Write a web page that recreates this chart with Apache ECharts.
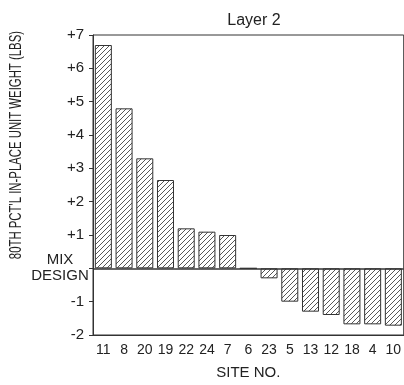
<!DOCTYPE html>
<html><head><meta charset="utf-8">
<script src="https://cdn.jsdelivr.net/npm/echarts@6/dist/echarts.min.js"></script>
<style>html,body{margin:0;padding:0;background:#fff}#c{width:404px;height:385px}</style>
</head><body><div id="c"></div>
<script>
const categories = ['11','8','20','19','22','24','7','6','23','5','13','12','18','4','10'];
const values = [6.7, 4.8, 3.3, 2.65, 1.2, 1.1, 1.0, 0, -0.3, -1.0, -1.3, -1.4, -1.68, -1.68, -1.72];
const yTickValues = [-2,-1,0,1,2,3,4,5,6,7];
const yTickLabels = ['-2','-1','MIX\nDESIGN','+1','+2','+3','+4','+5','+6','+7'];
const titleText = 'Layer 2';
const yName = "80TH PCT'L IN-PLACE UNIT WEIGHT (LBS)";
const xName = 'SITE NO.';

const pc = document.createElement('canvas');
pc.width = 5; pc.height = 5;
const g = pc.getContext('2d');
g.fillStyle = '#fff'; g.fillRect(0,0,5,5);
g.strokeStyle = '#444'; g.lineWidth = 0.9;
g.beginPath();
g.moveTo(0,5); g.lineTo(5,0);
g.moveTo(-1,1); g.lineTo(1,-1);
g.moveTo(4,6); g.lineTo(6,4);
g.stroke();

const FONT = '"Liberation Sans",sans-serif';
function yFmt(v) {
  const t = yTickLabels[yTickValues.indexOf(v)];
  if (v === 0) return t.split('\n').map(s => '{c|' + s + '}').join('\n');
  return '{n|' + t + '}';
}
const chart = echarts.init(document.getElementById('c'));
chart.setOption({
  animation: false,
  backgroundColor: '#fff',
  title: {text: titleText, left: 249, top: 8, textAlign: 'center',
    textStyle: {fontFamily: FONT, fontWeight: 'normal', fontSize: 16, color: '#222'}},
  grid: {left: 93, top: 35, width: 315, height: 302, show: true, borderColor: '#333', borderWidth: 1, backgroundColor: 'transparent'},
  xAxis: {type: 'category', data: categories,
    name: xName, nameLocation: 'middle', nameGap: 30,
    nameTextStyle: {fontFamily: FONT, fontSize: 15, color: '#222'},
    axisLine: {onZero: false, lineStyle: {color: '#333'}},
    axisTick: {alignWithLabel: true, length: 4, lineStyle: {color: '#333'}},
    axisLabel: {fontFamily: FONT, fontSize: 14, color: '#222', margin: 8, interval: 0}},
  yAxis: {type: 'value', min: -2, max: 7, interval: 1,
    axisLine: {show: true, lineStyle: {color: '#333'}},
    axisTick: {show: true, length: 4, lineStyle: {color: '#333'}},
    splitLine: {show: false},
    axisLabel: {fontFamily: FONT, fontSize: 15, color: '#222', margin: 3,
      formatter: yFmt,
      rich: {
        n: {fontFamily: FONT, fontSize: 15, color: '#222', padding: [0, 6, 0, 0]},
        c: {fontFamily: FONT, fontSize: 15, color: '#222', width: 60, align: 'center', lineHeight: 16}
      }}},
  graphic: [{type: 'text', left: 9, top: 31, rotation: Math.PI/2, scaleX: 0.71,
    style: {text: yName, fontFamily: FONT, fontSize: 16, fill: '#222'}}],
  series: [{type: 'bar', data: values, barWidth: 17,
    itemStyle: {color: {image: pc, repeat: 'repeat'}, borderColor: '#333', borderWidth: 1},
    markLine: {silent: true, symbol: 'none', label: {show: false},
      lineStyle: {color: '#333', type: 'solid', width: 1.5}, data: [{yAxis: 0}]}}]
});
</script></body></html>
